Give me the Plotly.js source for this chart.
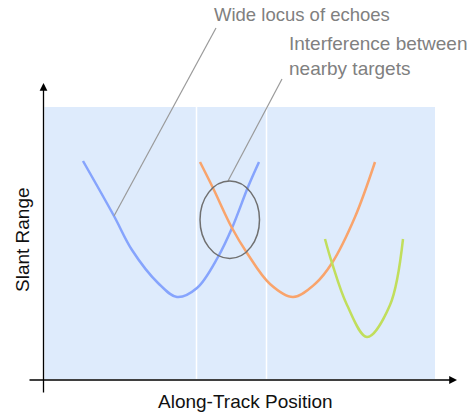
<!DOCTYPE html>
<html>
<head>
<meta charset="utf-8">
<script src="https://cdn.plot.ly/plotly-3.0.1.min.js"></script>
<style>html,body{margin:0;padding:0;background:#fff}#chart{width:473px;height:416px}</style>
</head>
<body>
<div id="chart"></div>
<script>
// Echo loci (along-track position, slant range; picture units, range grows downward)
const blueX = [83, 114, 132, 158, 177, 197, 218, 232, 248, 259];
const blueY = [161, 216, 250, 283, 297, 288, 257, 228, 187, 162];
const orangeX = [200, 213, 232, 247, 270, 293, 315, 332, 355, 375];
const orangeY = [162, 188, 228, 253, 284, 297, 284, 263, 217, 162];
const greenX = [325, 332, 347, 367, 390, 403];
const greenY = [239, 263, 305, 337, 305, 239];
const seriesNames = ["Target A", "Target B", "Target C"];
const xTitle = "Along-Track Position";
const yTitle = "Slant Range";
const noteLocus = "Wide locus of echoes";
const noteInterf = "Interference between<br>nearby targets";

const lineStyle = (c) => ({color: c, width: 2.5, shape: 'spline', smoothing: 1});
const traces = [
  {x: blueX, y: blueY, name: seriesNames[0], mode: 'lines', line: lineStyle('#86a4fd'), hoverinfo: 'skip'},
  {x: orangeX, y: orangeY, name: seriesNames[1], mode: 'lines', line: lineStyle('#f9a46c'), hoverinfo: 'skip'},
  {x: greenX, y: greenY, name: seriesNames[2], mode: 'lines', line: lineStyle('#c1de5c'), hoverinfo: 'skip'}
];

const font = 'Arial, "Liberation Sans", sans-serif';
const layout = {
  width: 473, height: 416,
  margin: {l: 0, r: 0, t: 0, b: 0},
  paper_bgcolor: '#ffffff', plot_bgcolor: 'rgba(0,0,0,0)',
  showlegend: false,
  xaxis: {range: [0, 473], visible: false, fixedrange: true},
  yaxis: {range: [416, 0], visible: false, fixedrange: true},
  shapes: [
    {type: 'rect', xref: 'x', yref: 'y', x0: 44.5, x1: 435, y0: 107, y1: 379, fillcolor: '#deebfc', line: {width: 0}, layer: 'below'},
    {type: 'line', xref: 'x', yref: 'y', x0: 196.5, x1: 196.5, y0: 107, y1: 379, line: {color: '#ffffff', width: 1.5}, layer: 'below'},
    {type: 'line', xref: 'x', yref: 'y', x0: 266.5, x1: 266.5, y0: 107, y1: 379, line: {color: '#ffffff', width: 1.5}, layer: 'below'},
    {type: 'line', xref: 'x', yref: 'y', x0: 216, y0: 28, x1: 114, y1: 216, line: {color: '#9a9a9a', width: 1.2}},
    {type: 'line', xref: 'x', yref: 'y', x0: 282, y0: 79, x1: 228, y1: 181, line: {color: '#9a9a9a', width: 1.2}},
    {type: 'circle', xref: 'x', yref: 'y', x0: 200, x1: 259.5, y0: 181, y1: 258.5, line: {color: '#707070', width: 1.5}}
  ],
  annotations: [
    {x: 43.5, y: 83, ax: 43.5, ay: 394, xref: 'x', yref: 'y', axref: 'x', ayref: 'y', text: '', showarrow: true, arrowhead: 2, arrowsize: 1.2, arrowwidth: 1.3, arrowcolor: '#000'},
    {x: 457, y: 380, ax: 28, ay: 380, xref: 'x', yref: 'y', axref: 'x', ayref: 'y', text: '', showarrow: true, arrowhead: 2, arrowsize: 1.2, arrowwidth: 1.3, arrowcolor: '#000'},
    {x: 245, y: 401, xref: 'x', yref: 'y', text: xTitle, showarrow: false, font: {family: font, size: 19, color: '#111'}},
    {x: 22, y: 240, xref: 'x', yref: 'y', text: yTitle, textangle: -90, showarrow: false, font: {family: font, size: 19, color: '#111'}},
    {x: 212, y: 14, xref: 'x', yref: 'y', xanchor: 'left', text: noteLocus, showarrow: false, font: {family: font, size: 18.5, color: '#808080'}},
    {x: 287, y: 56, xref: 'x', yref: 'y', xanchor: 'left', align: 'left', text: noteInterf, showarrow: false, font: {family: font, size: 19, color: '#808080'}}
  ]
};
Plotly.newPlot('chart', traces, layout, {staticPlot: true, displayModeBar: false});
</script>
</body>
</html>
